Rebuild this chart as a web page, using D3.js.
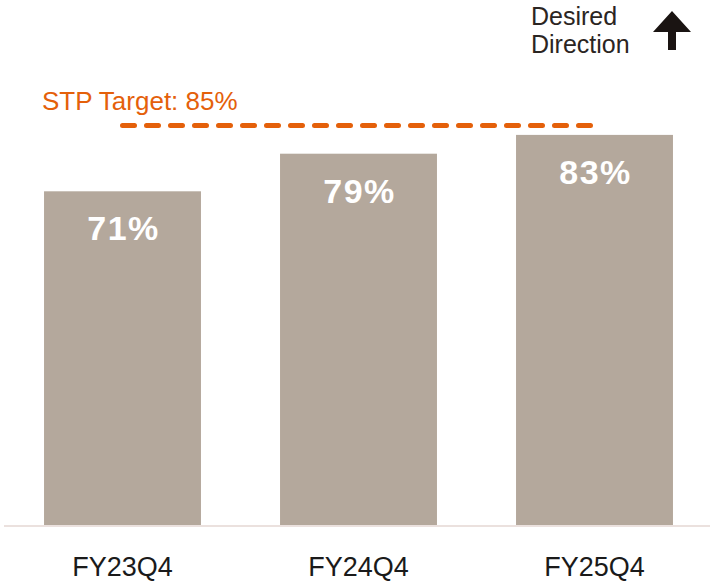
<!DOCTYPE html>
<html lang="en">
<head>
    <meta charset="utf-8">
    <title>STP Target chart</title>
    <style>
        body { margin: 0; background: #fff; }
        svg { display: block; font-family: "Liberation Sans", Arial, sans-serif; }
        .bar { fill: #b4a89c; }
        .val { fill: #fff; font-weight: bold; font-size: 34px; letter-spacing: 1.5px; }
        .cat { fill: #1a1a1a; font-size: 27px; }
        .target-line { fill: none; stroke: #e4600a; stroke-width: 5; stroke-dasharray: 12,12; stroke-linecap: round; }
        .target-label { fill: #e4600a; font-size: 26px; }
        .dir { fill: #2b2522; font-size: 25px; }
    </style>
</head>
<body>
<svg width="710" height="581"></svg>
<script src="https://cdn.jsdelivr.net/npm/d3@7"></script>
<script>
    // data
    const categories = ["FY23Q4", "FY24Q4", "FY25Q4"];
    const values = [71, 79, 83];
    const valueLabels = ["71%", "79%", "83%"];
    const target = 85;
    const targetLabel = "STP Target: 85%";

    const svg = d3.select("svg");

    // scales
    const x = d3.scaleBand()
        .domain(categories)
        .range([4.5, 712.5])
        .paddingInner(0.335)
        .paddingOuter(0.1675);
    const y = d3.scaleLinear().domain([0, 100]).range([525, 55]);

    // bars
    svg.selectAll(".bar")
        .data(categories)
        .enter()
        .append("rect")
        .attr("class", "bar")
        .attr("x", d => x(d))
        .attr("y", (d, i) => y(values[i]))
        .attr("width", x.bandwidth())
        .attr("height", (d, i) => y(0) - y(values[i]));

    // baseline
    svg.append("line")
        .attr("x1", 4).attr("x2", 710)
        .attr("y1", y(0) + 1).attr("y2", y(0) + 1)
        .attr("stroke", "#ebe1de")
        .attr("stroke-width", 2);

    // value labels inside bars
    svg.selectAll(".val")
        .data(categories)
        .enter()
        .append("text")
        .attr("class", "val")
        .attr("text-anchor", "middle")
        .attr("x", d => x(d) + x.bandwidth() / 2 + 1)
        .attr("y", (d, i) => y(values[i]) + 49)
        .text((d, i) => valueLabels[i]);

    // category labels
    svg.selectAll(".cat")
        .data(categories)
        .enter()
        .append("text")
        .attr("class", "cat")
        .attr("text-anchor", "middle")
        .attr("x", d => x(d) + x.bandwidth() / 2)
        .attr("y", 576)
        .text(d => d);

    // target line
    const first = categories[0], last = categories[categories.length - 1];
    svg.append("line")
        .attr("class", "target-line")
        .attr("x1", x(first) + x.bandwidth() / 2)
        .attr("x2", x(last) + x.bandwidth() / 2 - 4)
        .attr("y1", y(target))
        .attr("y2", y(target));

    svg.append("text")
        .attr("class", "target-label")
        .attr("x", 42)
        .attr("y", y(target) - 16)
        .text(targetLabel);

    // desired direction
    const dir = svg.append("text").attr("class", "dir");
    dir.append("tspan").attr("x", 531).attr("y", 25).text("Desired");
    dir.append("tspan").attr("x", 531).attr("y", 53).text("Direction");

    svg.append("path")
        .attr("d", "M672,11 L691,32 L676,32 L676,50 L668,50 L668,32 L653,32 Z")
        .attr("fill", "#1a1412");
</script>
</body>
</html>
